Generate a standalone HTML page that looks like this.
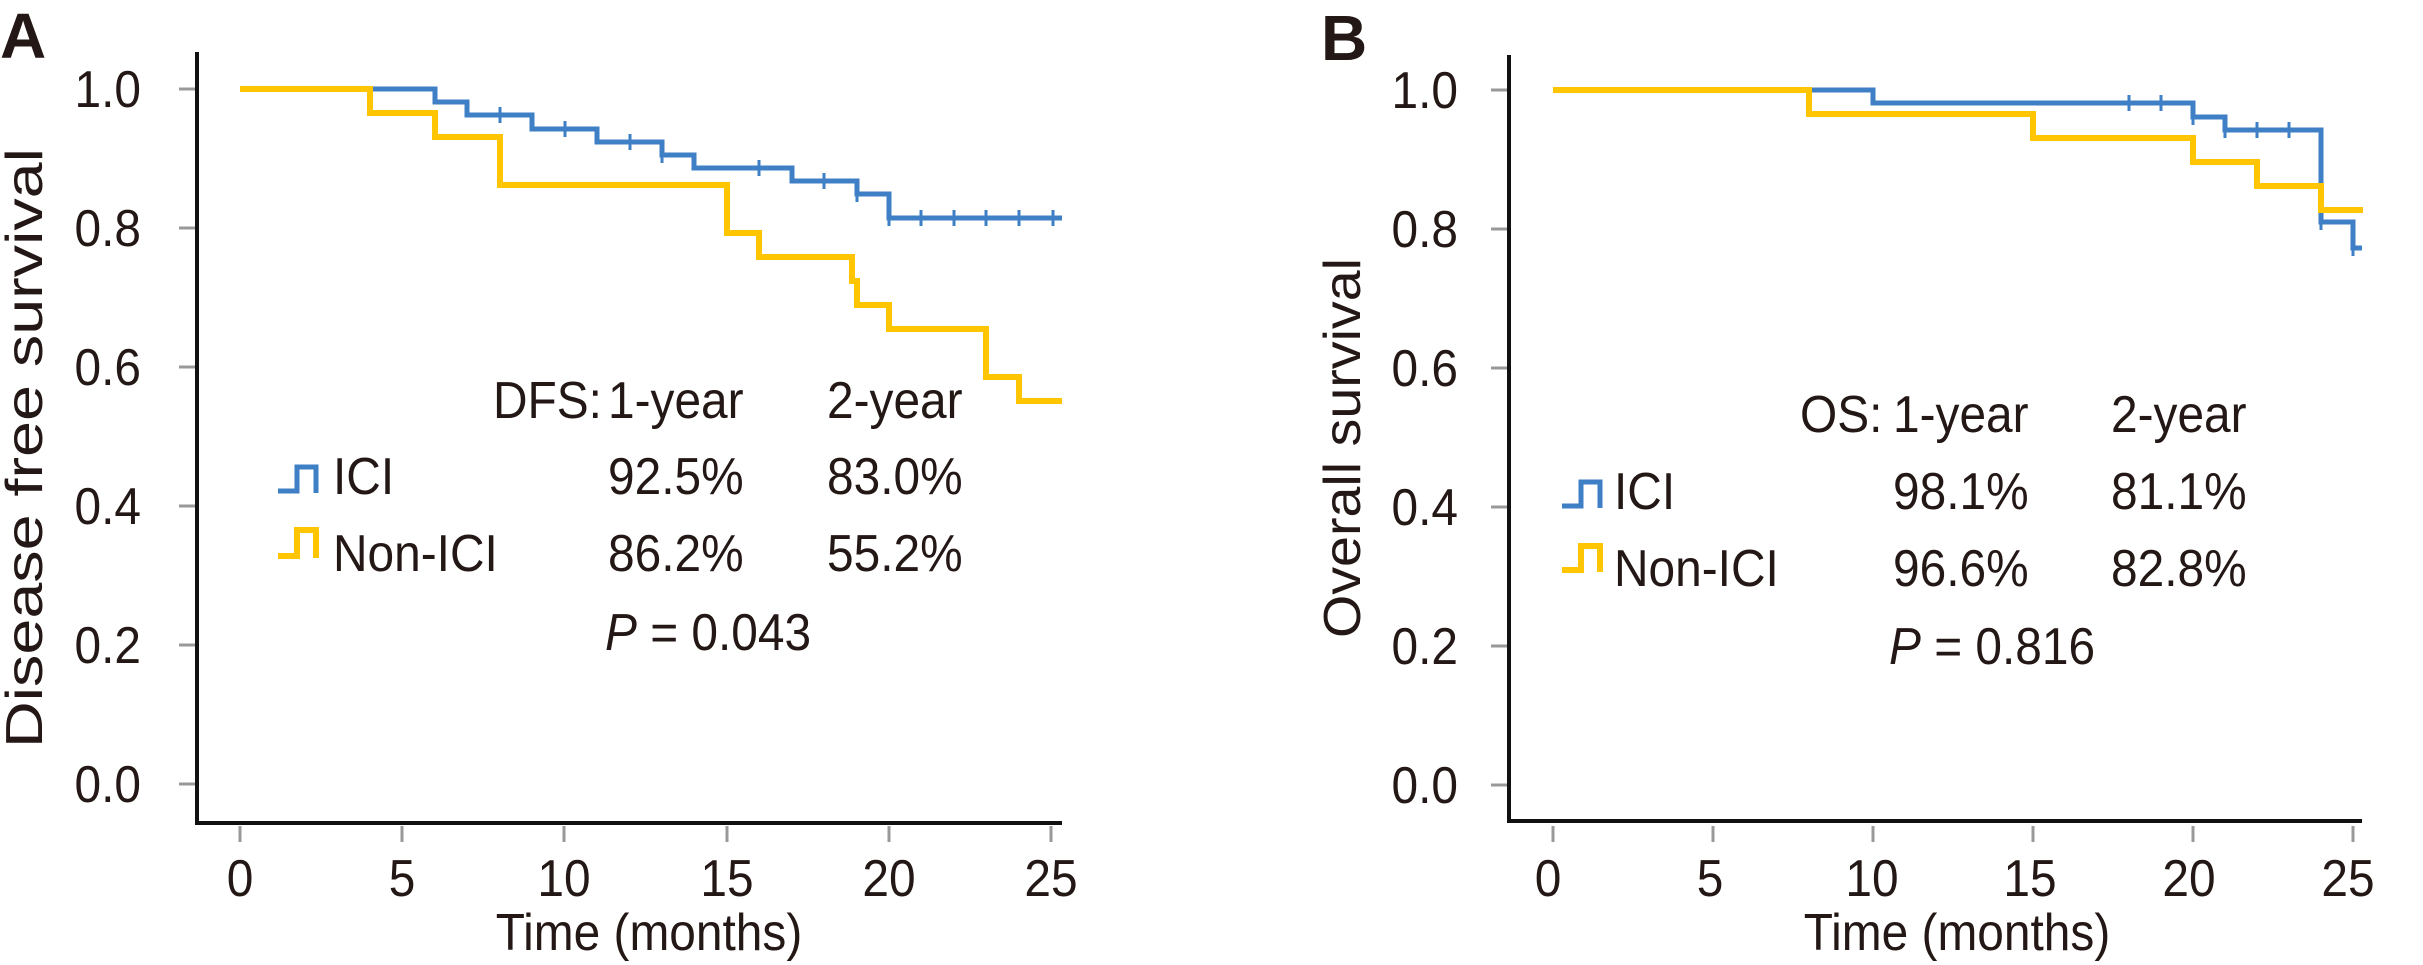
<!DOCTYPE html>
<html><head><meta charset="utf-8"><style>
html,body{margin:0;padding:0;background:#fff}
svg{display:block}
text{font-family:"Liberation Sans",sans-serif;fill:#231815;font-size:52px}
</style></head><body>
<svg width="2423" height="965" viewBox="0 0 2423 965" xmlns="http://www.w3.org/2000/svg">
<!-- Panel A -->
<text x="0" y="58" style="font-size:64px" font-weight="bold">A</text>
<g stroke="#999" stroke-width="3">
<line x1="179" y1="89" x2="196" y2="89"/><line x1="179" y1="228" x2="196" y2="228"/>
<line x1="179" y1="367" x2="196" y2="367"/><line x1="179" y1="506" x2="196" y2="506"/>
<line x1="179" y1="645" x2="196" y2="645"/><line x1="179" y1="784" x2="196" y2="784"/>
<line x1="240" y1="826" x2="240" y2="842"/><line x1="402" y1="826" x2="402" y2="842"/>
<line x1="564" y1="826" x2="564" y2="842"/><line x1="727" y1="826" x2="727" y2="842"/>
<line x1="889" y1="826" x2="889" y2="842"/><line x1="1051" y1="826" x2="1051" y2="842"/>
</g>
<g text-anchor="end">
<text transform="translate(141,107) scale(.92,1)">1.0</text><text transform="translate(141,246) scale(.92,1)">0.8</text><text transform="translate(141,385) scale(.92,1)">0.6</text>
<text transform="translate(141,524) scale(.92,1)">0.4</text><text transform="translate(141,663) scale(.92,1)">0.2</text><text transform="translate(141,802) scale(.92,1)">0.0</text>
</g>
<g text-anchor="middle">
<text transform="translate(240,896) scale(.92,1)">0</text><text transform="translate(402,896) scale(.92,1)">5</text><text transform="translate(564,896) scale(.92,1)">10</text>
<text transform="translate(727,896) scale(.92,1)">15</text><text transform="translate(889,896) scale(.92,1)">20</text><text transform="translate(1051,896) scale(.92,1)">25</text>
<text transform="translate(649,950) scale(.92,1)">Time (months)</text>
</g>
<text transform="translate(42,448) rotate(-90)" text-anchor="middle" textLength="600" lengthAdjust="spacingAndGlyphs">Disease free survival</text>
<path d="M197,52 V823 H1062" fill="none" stroke="#111" stroke-width="4"/>
<path fill="none" stroke="#3F7FC6" stroke-width="5" d="M240,89 H435 V102 H467 V115 H532 V129 H597 V142 H662 V155 H694 V168 H792 V181 H857 V194 H889 V218 H1062"/>
<g stroke="#3F7FC6" stroke-width="3">
<line x1="500" y1="107" x2="500" y2="123"/><line x1="565" y1="121" x2="565" y2="137"/>
<line x1="630" y1="134" x2="630" y2="150"/><line x1="662" y1="147" x2="662" y2="163"/>
<line x1="759" y1="160" x2="759" y2="176"/><line x1="824" y1="173" x2="824" y2="189"/>
<line x1="857" y1="186" x2="857" y2="202"/><line x1="889" y1="210" x2="889" y2="226"/>
<line x1="921" y1="210" x2="921" y2="226"/><line x1="954" y1="210" x2="954" y2="226"/>
<line x1="986" y1="210" x2="986" y2="226"/><line x1="1019" y1="210" x2="1019" y2="226"/>
<line x1="1053" y1="210" x2="1053" y2="226"/>
</g>
<path fill="none" stroke="#FFC500" stroke-width="6" d="M240,89 H370 V113 H435 V137 H500 V185 H727 V233 H759 V257 H852 V281 H857 V305 H889 V329 H986 V377 H1019 V401 H1062"/>
<path fill="none" stroke="#3F7FC6" stroke-width="5" d="M278,491 H297 V467 H316 V493"/>
<path fill="none" stroke="#FFC500" stroke-width="6" d="M278,556 H297 V530 H316 V558"/>
<text transform="translate(493,418) scale(.92,1)">DFS:</text><text transform="translate(608,418) scale(.92,1)">1-year</text><text transform="translate(827,418) scale(.92,1)">2-year</text>
<text transform="translate(333,494) scale(.92,1)">ICI</text><text transform="translate(608,494) scale(.92,1)">92.5%</text><text transform="translate(827,494) scale(.92,1)">83.0%</text>
<text transform="translate(333,571) scale(.92,1)">Non-ICI</text><text transform="translate(608,571) scale(.92,1)">86.2%</text><text transform="translate(827,571) scale(.92,1)">55.2%</text>
<text transform="translate(605,650) scale(.92,1)"><tspan font-style="italic">P</tspan> = 0.043</text>

<!-- Panel B -->
<text x="1321" y="60" style="font-size:64px" font-weight="bold">B</text>
<g stroke="#999" stroke-width="3">
<line x1="1491" y1="90" x2="1508" y2="90"/><line x1="1491" y1="229" x2="1508" y2="229"/>
<line x1="1491" y1="368" x2="1508" y2="368"/><line x1="1491" y1="507" x2="1508" y2="507"/>
<line x1="1491" y1="646" x2="1508" y2="646"/><line x1="1491" y1="785" x2="1508" y2="785"/>
<line x1="1553" y1="826" x2="1553" y2="842"/><line x1="1713" y1="826" x2="1713" y2="842"/>
<line x1="1873" y1="826" x2="1873" y2="842"/><line x1="2033" y1="826" x2="2033" y2="842"/>
<line x1="2193" y1="826" x2="2193" y2="842"/><line x1="2353" y1="826" x2="2353" y2="842"/>
</g>
<g text-anchor="end">
<text transform="translate(1458,108) scale(.92,1)">1.0</text><text transform="translate(1458,247) scale(.92,1)">0.8</text><text transform="translate(1458,386) scale(.92,1)">0.6</text>
<text transform="translate(1458,525) scale(.92,1)">0.4</text><text transform="translate(1458,664) scale(.92,1)">0.2</text><text transform="translate(1458,803) scale(.92,1)">0.0</text>
</g>
<g text-anchor="middle">
<text transform="translate(1548,896) scale(.92,1)">0</text><text transform="translate(1710,896) scale(.92,1)">5</text><text transform="translate(1872,896) scale(.92,1)">10</text>
<text transform="translate(2030,896) scale(.92,1)">15</text><text transform="translate(2189,896) scale(.92,1)">20</text><text transform="translate(2348,896) scale(.92,1)">25</text>
<text transform="translate(1957,950) scale(.92,1)">Time (months)</text>
</g>
<text transform="translate(1360,448) rotate(-90)" text-anchor="middle" textLength="380" lengthAdjust="spacingAndGlyphs">Overall survival</text>
<path d="M1509,55 V821 H2362" fill="none" stroke="#111" stroke-width="4"/>
<path fill="none" stroke="#3F7FC6" stroke-width="5" d="M1553,90 H1873 V103 H2193 V117 H2225 V130 H2321 V222 H2353 V248 H2362"/>
<g stroke="#3F7FC6" stroke-width="3">
<line x1="2129" y1="95" x2="2129" y2="111"/><line x1="2161" y1="95" x2="2161" y2="111"/>
<line x1="2193" y1="109" x2="2193" y2="125"/><line x1="2225" y1="122" x2="2225" y2="138"/>
<line x1="2257" y1="122" x2="2257" y2="138"/><line x1="2289" y1="122" x2="2289" y2="138"/>
<line x1="2321" y1="214" x2="2321" y2="230"/><line x1="2353" y1="240" x2="2353" y2="256"/>
</g>
<path fill="none" stroke="#FFC500" stroke-width="6" d="M1553,90 H1809 V114 H2033 V138 H2193 V162 H2257 V186 H2321 V210 H2363"/>
<path fill="none" stroke="#3F7FC6" stroke-width="5" d="M1562,506 H1581 V482 H1600 V508"/>
<path fill="none" stroke="#FFC500" stroke-width="6" d="M1562,570 H1581 V546 H1600 V572"/>
<text transform="translate(1800,432) scale(.92,1)">OS:</text><text transform="translate(1893,432) scale(.92,1)">1-year</text><text transform="translate(2111,432) scale(.92,1)">2-year</text>
<text transform="translate(1614,509) scale(.92,1)">ICI</text><text transform="translate(1893,509) scale(.92,1)">98.1%</text><text transform="translate(2111,509) scale(.92,1)">81.1%</text>
<text transform="translate(1614,586) scale(.92,1)">Non-ICI</text><text transform="translate(1893,586) scale(.92,1)">96.6%</text><text transform="translate(2111,586) scale(.92,1)">82.8%</text>
<text transform="translate(1889,664) scale(.92,1)"><tspan font-style="italic">P</tspan> = 0.816</text>
</svg>
</body></html>
